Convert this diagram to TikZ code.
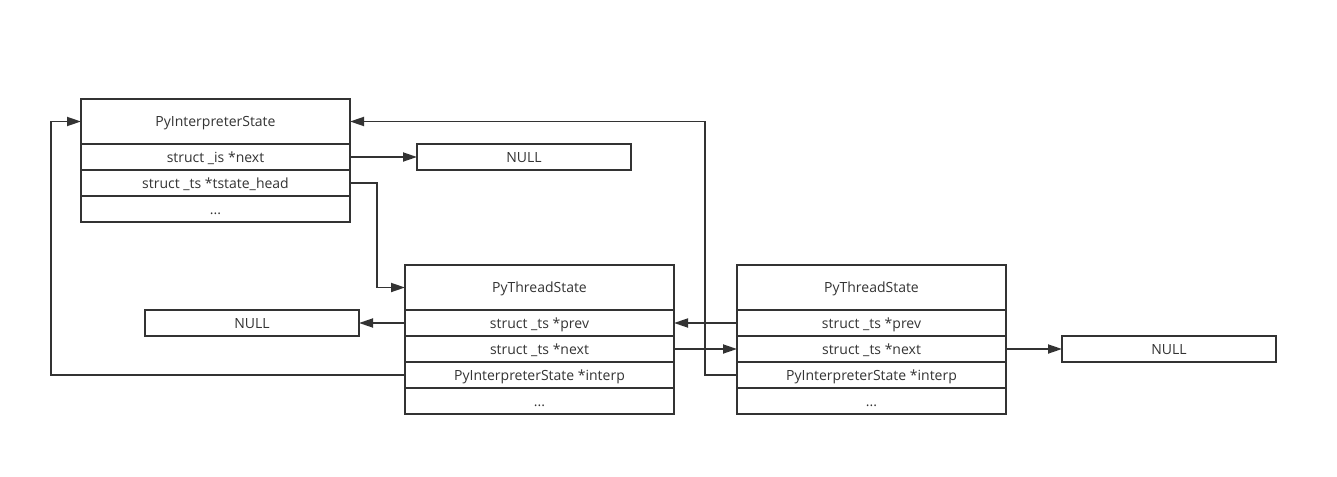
\documentclass[tikz,border=0pt]{standalone}
\usepackage{fontspec}
\setmainfont{Open Sans}
\usetikzlibrary{positioning,arrows.meta}

\begin{document}
\begin{tikzpicture}
    [x=1pt,y=-1pt,
     head/.style={rectangle,draw=black!80,line width=1.8pt,text=black!80,
       minimum width=269pt,minimum height=45pt,inner sep=0pt,outer sep=0pt,
       text height=10pt,text depth=0pt,font=\fontsize{14}{16}\selectfont},
     field/.style={head,minimum height=26pt},
     nullbox/.style={field,minimum width=214pt},
     link/.style={draw=black!80,line width=1.8pt,-{Triangle[length=14pt,width=9pt]}}]

    \useasboundingbox (0,0) rectangle (1337,476);

    % interpreter state
    \node[head,anchor=north west] (interp) at (81,99) {PyInterpreterState};
    \node[field] (isnext) [below=0pt of interp] {struct \_is *next};
    \node[field] (tshead) [below=0pt of isnext] {struct \_ts *tstate\_head};
    \node[field] (interpmore) [below=0pt of tshead] {...};

    \node[nullbox,anchor=north west] (nullA) at (417,144) {NULL};

    % first thread state
    \node[head,anchor=north west] (tsA) at (405,265) {PyThreadState};
    \node[field] (tsAprev) [below=0pt of tsA] {struct \_ts *prev};
    \node[field] (tsAnext) [below=0pt of tsAprev] {struct \_ts *next};
    \node[field] (tsAinterp) [below=0pt of tsAnext] {PyInterpreterState *interp};
    \node[field] (tsAmore) [below=0pt of tsAinterp] {...};

    \node[nullbox,anchor=north west] (nullB) at (145,310) {NULL};

    % second thread state
    \node[head,anchor=north west] (tsB) at (737,265) {PyThreadState};
    \node[field] (tsBprev) [below=0pt of tsB] {struct \_ts *prev};
    \node[field] (tsBnext) [below=0pt of tsBprev] {struct \_ts *next};
    \node[field] (tsBinterp) [below=0pt of tsBnext] {PyInterpreterState *interp};
    \node[field] (tsBmore) [below=0pt of tsBinterp] {...};

    \node[nullbox,anchor=north west] (nullC) at (1062,336) {NULL};

    % links
    \draw[link] (isnext.east) -- (nullA.west);
    \draw[link] (tshead.east) -- ++(27,0) |- (tsA.west);
    \draw[link] (tsAprev.west) -- (nullB.east);
    \draw[link] (tsAnext.east) -- (tsBnext.west);
    \draw[link] (tsBprev.west) -- (tsAprev.east);
    \draw[link] (tsBnext.east) -- (nullC.west);
    \draw[link] (tsAinterp.west) -- ++(-354,0) |- (interp.west);
    \draw[link] (tsBinterp.west) -- ++(-32,0) |- (interp.east);
\end{tikzpicture}
\end{document}
